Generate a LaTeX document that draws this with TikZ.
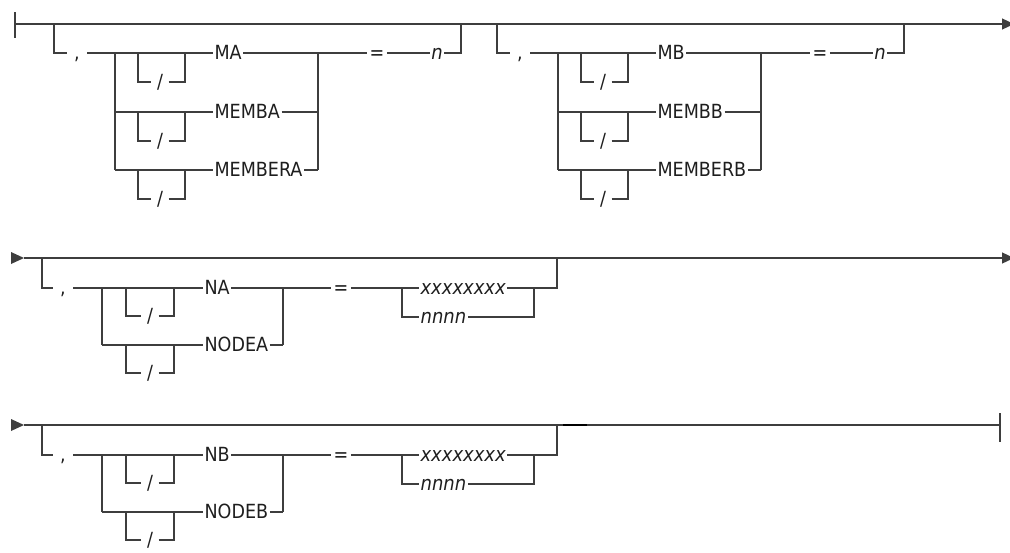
\documentclass[tikz,border=0pt]{standalone}
\usepackage{fontspec}
\setsansfont{DejaVu Sans Condensed}
\usetikzlibrary{arrows.meta}
\definecolor{RailGray}{RGB}{62,62,62}
\definecolor{TextGray}{RGB}{30,30,30}

\begin{document}
\begin{tikzpicture}[x=1pt,y=-1pt,line width=1.2pt,
  rail/.style={draw=RailGray},
  kw/.style={inner sep=1pt,text height=14pt,text depth=1pt,text=TextGray,font=\sffamily\fontsize{19.5}{20}\selectfont},
  var/.style={kw,font=\sffamily\itshape\fontsize{20}{20}\selectfont},
  sym/.style={kw,inner xsep=5pt}]
\useasboundingbox (0,0) rectangle (1010,552);
% main lines
\draw[rail] (15,12)--(15,38);
\draw[rail,-{Triangle[length=12pt,width=11pt]}] (15,24)--(1014,24);
\draw[rail,-{Triangle[length=12pt,width=11pt]}] (24,258)--(1014,258);
\draw[rail] (24,425)--(1000,425); \draw[rail] (1000,413)--(1000,442);
\draw[line width=2pt,black] (563,425)--(587,425);
\foreach \r in {0,167}{\fill[RailGray] (11,252+\r)--(24,258+\r)--(11,264+\r)--cycle;}
% member groups
\foreach \o/\s in {0/A,443/B}{
  \node[sym,inner xsep=7pt] (cm\s) at (77+\o,53){,};
  \draw[rail] (54+\o,24) |- (cm\s);
  \draw[rail] (cm\s) -- (115+\o,53) -- (115+\o,170);
  \foreach \y/\t in {53/M\s,112/MEMB\s,170/MEMBER\s}{
    \node[kw,anchor=west] (\t) at (213+\o,\y){\t};
    \node[sym] (sl\t) at (160+\o,\y+29){/};
    \draw[rail] (115+\o,\y) -- (\t.west);
    \draw[rail] (138+\o,\y) |- (sl\t) -| (185+\o,\y);
    \draw[rail] (\t.east) -- (318+\o,\y);
  }
  \draw[rail] (318+\o,53) -- (318+\o,170);
  \node[sym,inner xsep=2pt] (eq\s) at (377+\o,53){=};
  \node[var] (n\s) at (437+\o,53){n};
  \draw[rail] (318+\o,53) -- (eq\s) -- (n\s) -| (461+\o,24);
}
% node groups
\foreach \r/\s in {0/A,167/B}{
  \node[sym,inner xsep=7pt] (cn\s) at (63,288+\r){,};
  \draw[rail] (42,258+\r) |- (cn\s);
  \draw[rail] (cn\s) -- (102,288+\r) -- (102,345+\r);
  \foreach \y/\t in {288/N\s,345/NODE\s}{
    \node[kw,anchor=west] (\t) at (203,\y+\r){\t};
    \node[sym] (sl\t) at (150,\y+\r+28){/};
    \draw[rail] (102,\y+\r) -- (\t.west);
    \draw[rail] (126,\y+\r) |- (sl\t) -| (174,\y+\r);
    \draw[rail] (\t.east) -- (283,\y+\r);
  }
  \draw[rail] (283,288+\r) -- (283,345+\r);
  \node[sym,inner xsep=2pt] (eqn\s) at (341,288+\r){=};
  \node[var,anchor=west] (x\s) at (419,288+\r){xxxxxxxx};
  \node[var,anchor=west] (nn\s) at (419,317+\r){nnnn};
  \draw[rail] (283,288+\r) -- (eqn\s) -- (x\s);
  \draw[rail] (402,288+\r) |- (nn\s);
  \draw[rail] (x\s) -| (534,317+\r) -- (nn\s);
  \draw[rail] (534,288+\r) -| (557,258+\r);
}
\end{tikzpicture}
\end{document}
